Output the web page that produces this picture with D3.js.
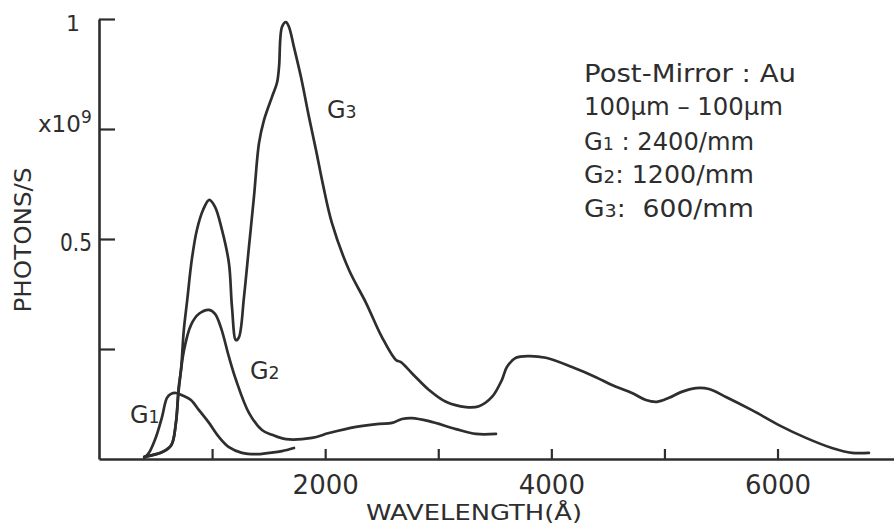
<!DOCTYPE html>
<html>
<head>
<meta charset="utf-8">
<script src="https://cdn.jsdelivr.net/npm/d3@7"></script>
<style>
  html, body { margin: 0; padding: 0; background: #fff; }
  svg { display: block; }
  text { font-family: "DejaVu Sans", sans-serif; fill: #2e2e2e; }
</style>
</head>
<body>
<svg id="chart" width="894" height="528"></svg>
<script>
// ---- data (wavelength in Å, photons/s in units of 1e9) ----
const g3Wavelength = [400, 560, 640, 680, 705, 725, 750, 780, 820, 865, 920, 975, 1026, 1088, 1149, 1176, 1211, 1238, 1282, 1326, 1370, 1415, 1459, 1530, 1574, 1592, 1618, 1653, 1680, 1724, 1786, 1857, 1919, 1981, 2060, 2210, 2361, 2502, 2626, 2670, 2767, 2918, 3068, 3245, 3360, 3475, 3563, 3607, 3687, 3802, 3952, 4182, 4394, 4536, 4713, 4836, 4934, 5040, 5146, 5279, 5394, 5544, 5774, 6012, 6251, 6481, 6658, 6808];
const g3Photons = [0.005, 0.016, 0.032, 0.082, 0.164, 0.202, 0.293, 0.361, 0.452, 0.520, 0.566, 0.589, 0.573, 0.520, 0.445, 0.345, 0.270, 0.277, 0.368, 0.482, 0.595, 0.718, 0.770, 0.823, 0.855, 0.891, 0.982, 0.993, 0.982, 0.936, 0.868, 0.777, 0.702, 0.623, 0.536, 0.430, 0.355, 0.277, 0.225, 0.220, 0.195, 0.157, 0.130, 0.118, 0.120, 0.141, 0.180, 0.209, 0.230, 0.234, 0.230, 0.209, 0.186, 0.168, 0.150, 0.134, 0.130, 0.139, 0.152, 0.161, 0.159, 0.141, 0.111, 0.077, 0.048, 0.025, 0.014, 0.014];

const g2Wavelength = [400, 560, 640, 680, 705, 752, 814, 884, 973, 1026, 1079, 1149, 1211, 1326, 1441, 1530, 1653, 1883, 2034, 2272, 2476, 2591, 2679, 2767, 2918, 3156, 3333, 3510];
const g2Photons = [0.005, 0.016, 0.032, 0.082, 0.157, 0.248, 0.305, 0.330, 0.339, 0.330, 0.298, 0.232, 0.180, 0.105, 0.066, 0.055, 0.045, 0.048, 0.059, 0.073, 0.080, 0.082, 0.091, 0.093, 0.086, 0.068, 0.057, 0.057];

const g1Wavelength = [400, 442, 504, 557, 601, 637, 681, 734, 813, 884, 973, 1061, 1149, 1264, 1388, 1503, 1618, 1724];
const g1Photons = [0.002, 0.014, 0.050, 0.095, 0.139, 0.148, 0.150, 0.145, 0.134, 0.111, 0.082, 0.050, 0.027, 0.014, 0.011, 0.014, 0.018, 0.025];

const xTickValues = [1000, 2000, 3000, 4000, 5000, 6000];
const xTickLabels = ["", "2000", "", "4000", "", "6000"];
const yTickValues = [0.25, 0.5, 0.75, 1];
const yTickLabels = ["", "0.5", "", "1"];

const seriesNames = ["G1", "G2", "G3"];
const legendLines = ["Post-Mirror : Au", "100\u00b5m \u2013 100\u00b5m", "G1 : 2400/mm", "G2: 1200/mm", "G3:  600/mm"];

// ---- drawing ----
const svg = d3.select("#chart");
const ink = "#2e2e2e";

const x = d3.scaleLinear().domain([0, 7030]).range([99, 894]);
const y = d3.scaleLinear().domain([0, 1]).range([459, 19]);

// axes
const xAxis = d3.axisBottom(x).tickValues(xTickValues).tickSizeInner(-10).tickSizeOuter(0).tickFormat((d, i) => xTickLabels[i]);
const gx = svg.append("g").attr("transform", `translate(0,${y(0)})`).call(xAxis);
gx.select(".domain").attr("stroke", ink).attr("stroke-width", 2.6);
gx.selectAll(".tick line").attr("stroke", ink).attr("stroke-width", 2.2);
gx.selectAll(".tick text").attr("font-size", 26).attr("font-family", "DejaVu Sans, sans-serif").attr("fill", ink).attr("dy", null).attr("y", 35);

const yAxis = d3.axisLeft(y).tickValues(yTickValues).tickSizeInner(-16).tickSizeOuter(0).tickFormat(() => "");
const gy = svg.append("g").attr("transform", `translate(${x(0)},0)`).call(yAxis);
gy.select(".domain").attr("stroke", ink).attr("stroke-width", 2.6);
gy.selectAll(".tick line").attr("stroke", ink).attr("stroke-width", 2.2);

// y tick labels
svg.append("text").attr("x", 80).attr("y", y(1) + 12).attr("text-anchor", "end").attr("font-size", 22).text(yTickLabels[3]);
svg.append("text").attr("x", 92).attr("y", y(0.5) + 12).attr("text-anchor", "end").attr("font-size", 24)
  .attr("textLength", 32).attr("lengthAdjust", "spacingAndGlyphs").text(yTickLabels[1]);
const mult = svg.append("text").attr("x", 38).attr("y", 132).attr("font-size", 23);
mult.append("tspan").text("x10");
mult.append("tspan").attr("font-size", 17).attr("dy", -9).text("9");

// axis titles
svg.append("text").attr("transform", "translate(31,240) rotate(-90)").attr("text-anchor", "middle")
  .attr("font-size", 23).attr("textLength", 145).attr("lengthAdjust", "spacingAndGlyphs").text("PHOTONS/S");
svg.append("text").attr("x", 366).attr("y", 520).attr("font-size", 22)
  .attr("textLength", 216).attr("lengthAdjust", "spacingAndGlyphs").text("WAVELENGTH(\u00c5)");

// curves
const line = d3.line().x(d => x(d[0])).y(d => y(d[1])).curve(d3.curveCatmullRom.alpha(0.5));
const series = [
  d3.zip(g1Wavelength, g1Photons),
  d3.zip(g2Wavelength, g2Photons),
  d3.zip(g3Wavelength, g3Photons)
];
svg.append("g").selectAll("path").data(series).join("path")
  .attr("d", line).attr("fill", "none").attr("stroke", ink)
  .attr("stroke-width", 2.7).attr("stroke-linejoin", "round").attr("stroke-linecap", "round");

// curve labels (G + small digit)
function gLabel(sel, name, size) {
  sel.append("tspan").text(name[0]);
  sel.append("tspan").attr("font-size", size * 0.72).text(name.slice(1));
}
const labelPos = [[130, 423], [250, 379], [327, 118]];
seriesNames.forEach((n, i) => {
  const t = svg.append("text").attr("x", labelPos[i][0]).attr("y", labelPos[i][1]).attr("font-size", 24);
  gLabel(t, n, 24);
});

// legend text block
const legendWidths = [212, 199, 170, 170, 170];
const legendBase = [82, 115, 150, 183, 217];
legendLines.forEach((s, i) => {
  const t = svg.append("text").attr("x", 584).attr("y", legendBase[i]).attr("font-size", 25)
    .attr("textLength", legendWidths[i]).attr("lengthAdjust", "spacingAndGlyphs");
  if (/^G\d/.test(s)) {
    t.append("tspan").text("G");
    t.append("tspan").attr("font-size", 18).text(s[1]);
    t.append("tspan").attr("xml:space", "preserve").text(s.slice(2).replace(/  /g, "\u00a0\u00a0"));
  } else {
    t.text(s);
  }
});
</script>
</body>
</html>
